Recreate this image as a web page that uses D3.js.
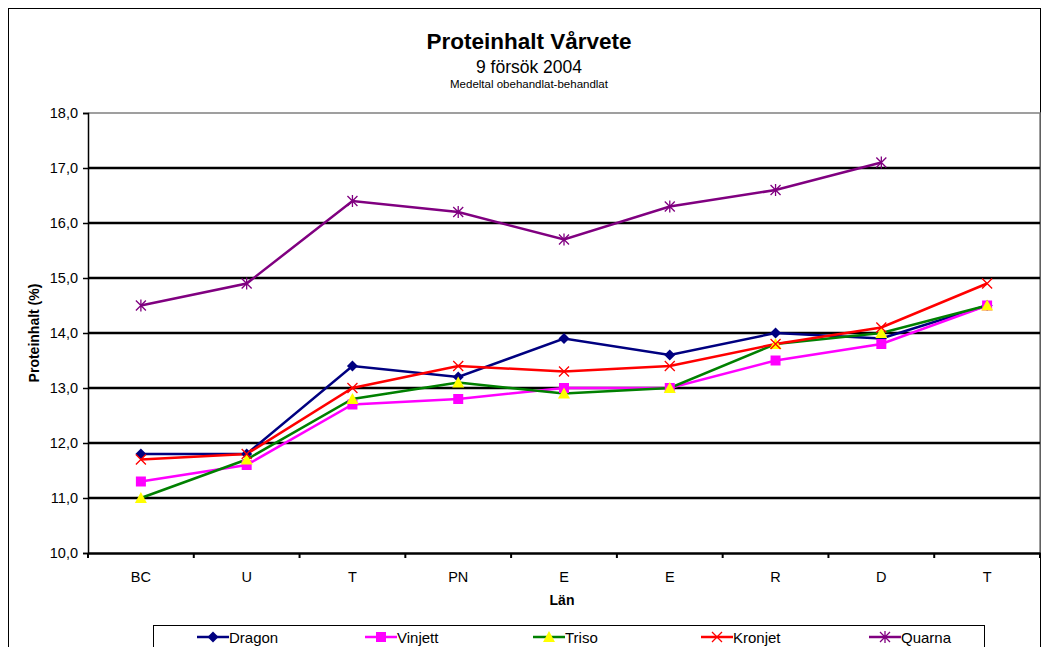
<!DOCTYPE html>
<html>
<head>
<meta charset="utf-8">
<script src="https://cdn.jsdelivr.net/npm/d3@7"></script>
<style>
  body { margin: 0; background: #fff; }
  svg { font-family: "Liberation Sans", Arial, sans-serif; }
</style>
</head>
<body>
<svg id="chart" width="1044" height="647"></svg>
<script>
// data
const lan = ["BC", "U", "T", "PN", "E", "E", "R", "D", "T"];
const dragon  = [11.8, 11.8, 13.4, 13.2, 13.9, 13.6, 14.0, 13.9, 14.5];
const vinjett = [11.3, 11.6, 12.7, 12.8, 13.0, 13.0, 13.5, 13.8, 14.5];
const triso   = [11.0, 11.7, 12.8, 13.1, 12.9, 13.0, 13.8, 14.0, 14.5];
const kronjet = [11.7, 11.8, 13.0, 13.4, 13.3, 13.4, 13.8, 14.1, 14.9];
const quarna  = [14.5, 14.9, 16.4, 16.2, 15.7, 16.3, 16.6, 17.1, null];
const yTicks = [10, 11, 12, 13, 14, 15, 16, 17, 18];

const series = [
  { name: "Dragon",  values: dragon,  color: "#000080", marker: "diamond" },
  { name: "Vinjett", values: vinjett, color: "#FF00FF", marker: "square" },
  { name: "Triso",   values: triso,   color: "#008000", marker: "triangle" },
  { name: "Kronjet", values: kronjet, color: "#FF0000", marker: "cross" },
  { name: "Quarna",  values: quarna,  color: "#800080", marker: "star" }
];

const svg = d3.select("#chart");
const margin = { top: 113, right: 4, bottom: 94, left: 88 };
const width = 1044, height = 647;

// outer chart frame
svg.append("rect")
  .attr("x", 8.5).attr("y", 8.5)
  .attr("width", 1032).attr("height", 660)
  .attr("fill", "none").attr("stroke", "#000").attr("stroke-width", 1);

const x = d3.scaleBand()
  .domain(d3.range(lan.length))
  .range([margin.left, width - margin.right]);

const y = d3.scaleLinear()
  .domain([10, 18])
  .range([height - margin.bottom, margin.top]);

// plot area border (gray top/right)
svg.append("path")
  .attr("d", `M${margin.left},${y(18)}H${width - margin.right}V${y(10)}`)
  .attr("fill", "none").attr("stroke", "#808080").attr("stroke-width", 1.5);

// gridlines
svg.append("g")
  .selectAll("line")
  .data(yTicks.filter(d => d > 10 && d < 18))
  .join("line")
  .attr("x1", margin.left).attr("x2", width - margin.right)
  .attr("y1", d => y(d)).attr("y2", d => y(d))
  .attr("stroke", "#000").attr("stroke-width", 2.5);

// y axis
const yAxis = svg.append("g")
  .attr("transform", `translate(${margin.left},0)`)
  .call(d3.axisLeft(y).tickValues(yTicks).tickSize(5).tickPadding(5)
    .tickFormat(d => d3.format(".1f")(d).replace(".", ",")));
yAxis.select(".domain").attr("stroke-width", 1.5);
yAxis.selectAll(".tick line").attr("stroke-width", 1.5);
yAxis.selectAll("text").attr("font-size", 14.5).attr("fill", "#000")
  .attr("font-family", "Liberation Sans, Arial, sans-serif");

// x axis with ticks between categories
const xAxis = svg.append("g")
  .attr("transform", `translate(0,${y(10)})`)
  .call(d3.axisBottom(x).tickSize(0).tickPadding(19).tickFormat(i => lan[i]));
xAxis.select(".domain").attr("stroke-width", 2.5);
xAxis.selectAll("text").attr("font-size", 14.5).attr("fill", "#000")
  .attr("font-family", "Liberation Sans, Arial, sans-serif");
svg.append("g")
  .selectAll("line")
  .data(d3.range(lan.length + 1))
  .join("line")
  .attr("x1", i => margin.left + i * x.step())
  .attr("x2", i => margin.left + i * x.step())
  .attr("y1", y(10)).attr("y2", y(10) + 5)
  .attr("stroke", "#000").attr("stroke-width", 2);

// titles
svg.append("text").attr("x", 529).attr("y", 48.5).attr("text-anchor", "middle")
  .attr("font-size", 22.5).attr("font-weight", "bold").text("Proteinhalt Vårvete");
svg.append("text").attr("x", 529).attr("y", 73).attr("text-anchor", "middle")
  .attr("font-size", 17.5).text("9 försök 2004");
svg.append("text").attr("x", 529).attr("y", 88).attr("text-anchor", "middle")
  .attr("font-size", 11.5).text("Medeltal obehandlat-behandlat");
svg.append("text")
  .attr("transform", `translate(39,${(y(10) + y(18)) / 2}) rotate(-90)`)
  .attr("text-anchor", "middle").attr("font-size", 14).attr("font-weight", "bold")
  .text("Proteinhalt (%)");
svg.append("text").attr("x", 562).attr("y", 605).attr("text-anchor", "middle")
  .attr("font-size", 14).attr("font-weight", "bold").text("Län");

// marker drawing
function drawMarker(g, type, color) {
  if (type === "diamond") {
    g.append("path").attr("d", "M0,-5.5L5.5,0L0,5.5L-5.5,0Z").attr("fill", color);
  } else if (type === "square") {
    g.append("rect").attr("x", -5).attr("y", -5).attr("width", 10).attr("height", 10).attr("fill", color);
  } else if (type === "triangle") {
    g.append("path").attr("d", "M0,-6L6,5L-6,5Z").attr("fill", "#FFFF00");
  } else if (type === "cross") {
    g.append("path").attr("d", "M-5,-5L5,5M-5,5L5,-5").attr("stroke", color).attr("stroke-width", 1.3);
  } else if (type === "star") {
    g.append("path").attr("d", "M-5,-5L5,5M-5,5L5,-5M0,-6V6")
      .attr("stroke", color).attr("stroke-width", 1.3);
  }
}

const cx = i => x(i) + x.bandwidth() / 2;
const line = d3.line()
  .defined(d => d != null)
  .x((d, i) => cx(i))
  .y(d => y(d));

series.forEach(s => {
  svg.append("path")
    .datum(s.values)
    .attr("d", line)
    .attr("fill", "none")
    .attr("stroke", s.color)
    .attr("stroke-width", 2.5);
});
series.forEach(s => {
  s.values.forEach((v, i) => {
    if (v == null) return;
    const g = svg.append("g").attr("transform", `translate(${cx(i)},${y(v)})`);
    drawMarker(g, s.marker, s.color);
  });
});

// legend
svg.append("rect")
  .attr("x", 153.5).attr("y", 625.5).attr("width", 831).attr("height", 40)
  .attr("fill", "#fff").attr("stroke", "#000").attr("stroke-width", 1);
const legend = svg.append("g")
  .selectAll("g")
  .data(series)
  .join("g")
  .attr("transform", (d, i) => `translate(${197 + i * 168},637)`);
legend.append("line")
  .attr("x1", 0).attr("x2", 32).attr("y1", 0).attr("y2", 0)
  .attr("stroke", d => d.color).attr("stroke-width", 2.5);
legend.each(function(d) {
  const g = d3.select(this).append("g").attr("transform", "translate(16,0)");
  drawMarker(g, d.marker, d.color);
});
legend.append("text")
  .attr("x", 32).attr("y", 5.5).attr("font-size", 15).text(d => d.name);
</script>
</body>
</html>
